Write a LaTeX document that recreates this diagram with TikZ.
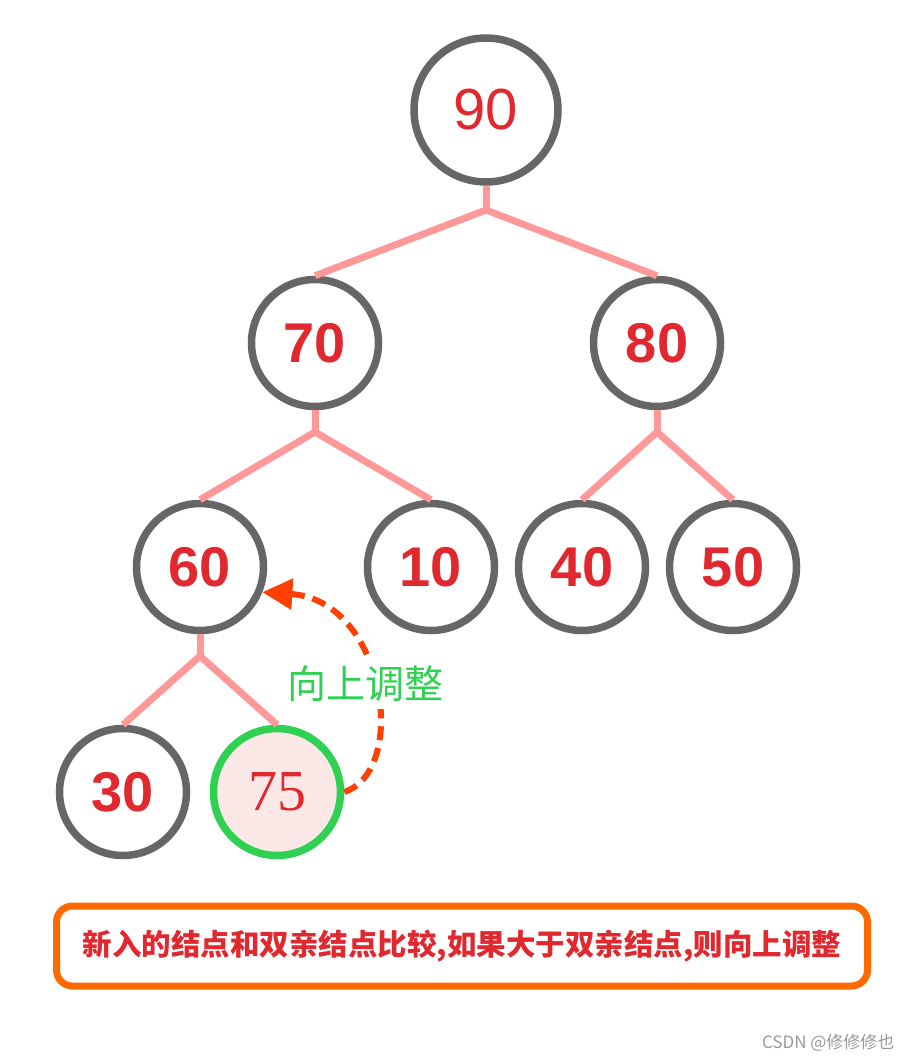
\documentclass[tikz,border=0pt]{standalone}
\usepackage{fontspec}
\setmainfont{Liberation Sans}
\newfontfamily\serifnum{Liberation Serif}
\newfontfamily\cjk{Noto Sans CJK SC}
\usepackage{tikz}
\usetikzlibrary{arrows.meta,positioning,calc}
\usepackage{xcolor}
\definecolor{ringgray}{HTML}{666666}
\definecolor{numred}{HTML}{E0282E}
\definecolor{edgepink}{HTML}{FF9999}
\definecolor{newgreen}{HTML}{2ED152}
\definecolor{newfill}{HTML}{FDE8E8}
\definecolor{arrowred}{HTML}{FF4000}
\definecolor{boxorange}{HTML}{FF6A00}

\begin{document}
\begin{tikzpicture}[
    x=1pt, y=-1pt,
    heapnode/.style={circle, draw=ringgray, line width=7.5pt, fill=white, inner sep=0pt, minimum size=127pt,
      text=numred, font=\fontsize{56}{58}\selectfont\bfseries},
    rootnode/.style={heapnode, minimum size=144pt, line width=7.5pt, font=\fontsize{58}{60}\selectfont},
    newnode/.style={heapnode, draw=newgreen, fill=newfill, font=\serifnum\fontsize{58}{60}\selectfont},
    edge/.style={draw=edgepink, line width=7pt},
    uparr/.style={draw=arrowred, line width=6pt, dash pattern=on 14pt off 8pt, -{Triangle[length=30pt, width=30pt]}},
    uplab/.style={text=newgreen, font=\cjk\fontsize{39}{41}\selectfont, fill=white, inner sep=7pt},
    notebox/.style={draw=boxorange, line width=7pt, rounded corners=16pt, minimum width=811pt, minimum height=80pt,
      text=numred, font=\cjk\bfseries\fontsize{29.5}{31}\selectfont},
    wmark/.style={text=black!40, font=\cjk\fontsize{17}{18}\selectfont}
  ]
    \useasboundingbox (0,0) rectangle (912,1062);
    % tree
    \node[rootnode] (n90) at (486,110) {90};
    \node[heapnode] (n70) at (315,343) {70};
    \node[heapnode] (n80) at (657,343) {80};
    \node[heapnode] (n60) at (200,567) {60};
    \node[heapnode] (n10) at (431,567) {10};
    \node[heapnode] (n40) at (582,567) {40};
    \node[heapnode] (n50) at (733,567) {50};
    \node[heapnode] (n30) at (123,792) {30};
    \node[newnode] (n75) at (277,792) {75};
    \coordinate (j90) at (486,210);
    \coordinate (j70) at (315,432);
    \coordinate (j80) at (657,432);
    \coordinate (j60) at (200,656);
    \draw[edge] (n90) -- (j90);
    \draw[edge] (n70.north) -- (j90) -- (n80.north);
    \draw[edge] (n70) -- (j70);
    \draw[edge] (n60.north) -- (j70) -- (n10.north);
    \draw[edge] (n80) -- (j80);
    \draw[edge] (n40.north) -- (j80) -- (n50.north);
    \draw[edge] (n60) -- (j60);
    \draw[edge] (n30.north) -- (j60) -- (n75.north);
    % sift up
    \draw[uparr] (n75.east) .. controls (410,770) and (385,600) .. (n60.-22);
    \node[uplab] (up) at (365,684) {向上调整};
    \node[notebox] (note) at (462,946) {新入的结点和双亲结点比较,如果大于双亲结点,则向上调整};
    \node[wmark, anchor=east] (wm) at (898,1043) {CSDN @修修修也};
  \end{tikzpicture}
\end{document}
